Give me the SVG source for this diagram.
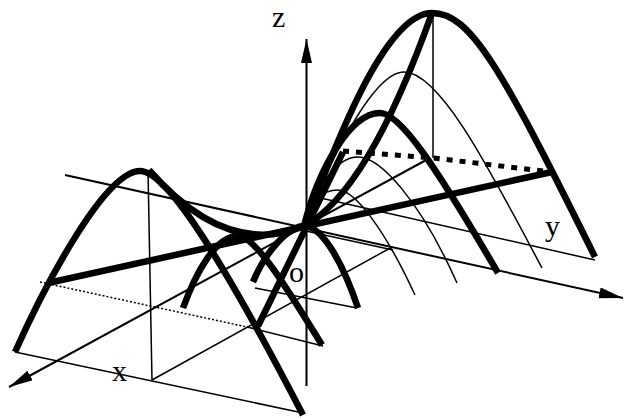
<svg xmlns="http://www.w3.org/2000/svg" width="624" height="418" viewBox="0 0 624 418">
  <defs>
    <marker id="arrow" markerUnits="userSpaceOnUse" markerWidth="26" markerHeight="12" refX="24" refY="5.5" orient="auto">
      <path d="M0,0 L24,5.5 L0,11 z" fill="#000"/>
    </marker>
    <style>
      .thick{fill:none;stroke:#000;stroke-width:6.5;stroke-linecap:butt;stroke-linejoin:round}
      .mid{fill:none;stroke:#000;stroke-width:2}
      .thin{fill:none;stroke:#000;stroke-width:1.5}
      .dots{fill:none;stroke:#000;stroke-width:1.5;stroke-dasharray:2 2}
      .bigdots{fill:none;stroke:#000;stroke-width:5;stroke-dasharray:6 7}
      .lbl{font-family:"Liberation Serif","Times New Roman",serif;font-size:30px;fill:#000}
    </style>
  </defs>
  <rect width="624" height="418" fill="#fff"/>

  <g id="axes">
    <line class="mid" x1="428" y1="159" x2="9" y2="387" marker-end="url(#arrow)"/>
    <line class="mid" x1="65" y1="175" x2="623" y2="298" marker-end="url(#arrow)"/>
    <line class="mid" x1="306.5" y1="386" x2="306.5" y2="39" marker-end="url(#arrow)"/>
  </g>

  <g id="guides">
    <line class="thin" x1="15" y1="352" x2="303" y2="413"/>
    <line class="thin" x1="148" y1="170" x2="152" y2="380"/>
    <line class="dots" x1="40" y1="282" x2="247" y2="327"/>
    <line class="thin" x1="247" y1="327" x2="323" y2="346"/>
    <line class="thin" x1="255" y1="288" x2="357" y2="308"/>
    <line class="thin" x1="316" y1="197" x2="595" y2="260"/>
    <line class="thin" x1="152" y1="380" x2="392" y2="247"/>
    <line class="thin" x1="306" y1="231" x2="393" y2="250"/>
    <line class="thin" x1="433" y1="15" x2="433" y2="158"/>
    <polyline class="bigdots" points="343,151 433,158 552,172"/>
  </g>

  <g id="surface">
    <path class="thick" d="M15,352 C45,285 105,171 140,171 C165,171 215,245 303,415"/>
    <path class="thick" d="M149,170 Q226.5,258.5 304,226"/>
    <path class="thick" d="M304,226 Q368,192.5 432,13"/>
    <path class="thick" d="M304,226 C325,175 380,13 432,13 C470,13 500,65 595,257"/>
    <path class="thick" d="M304,226 C318,170 350,113 380,113 C400,113 435,165 498,273"/>
    <path class="thin" d="M304,226 C322,180 370,72 404,72 C440,72 490,170 542,268"/>
    <path class="thin" d="M304,226 C315,190 335,157 358,157 C380,157 420,200 457,283"/>
    <path class="thin" d="M304,226 C312,200 322,190 338,190 C355,190 385,230 415,295"/>
    <path class="thick" d="M183,308 C195,275 215,236 238,236 C255,236 285,285 322,345"/>
    <path class="thick" d="M253,282 C266,250 290,226 304,226 C320,226 340,255 358,308"/>
    <line class="thick" x1="48" y1="283" x2="552" y2="172"/>
    <line class="thick" x1="258" y1="326" x2="343" y2="152"/>
  </g>

  <g id="labels">
    <text class="lbl" x="272" y="27">z</text>
    <text class="lbl" x="545" y="236">y</text>
    <text class="lbl" x="112" y="381">x</text>
    <text class="lbl" x="289" y="282">o</text>
  </g>
</svg>
